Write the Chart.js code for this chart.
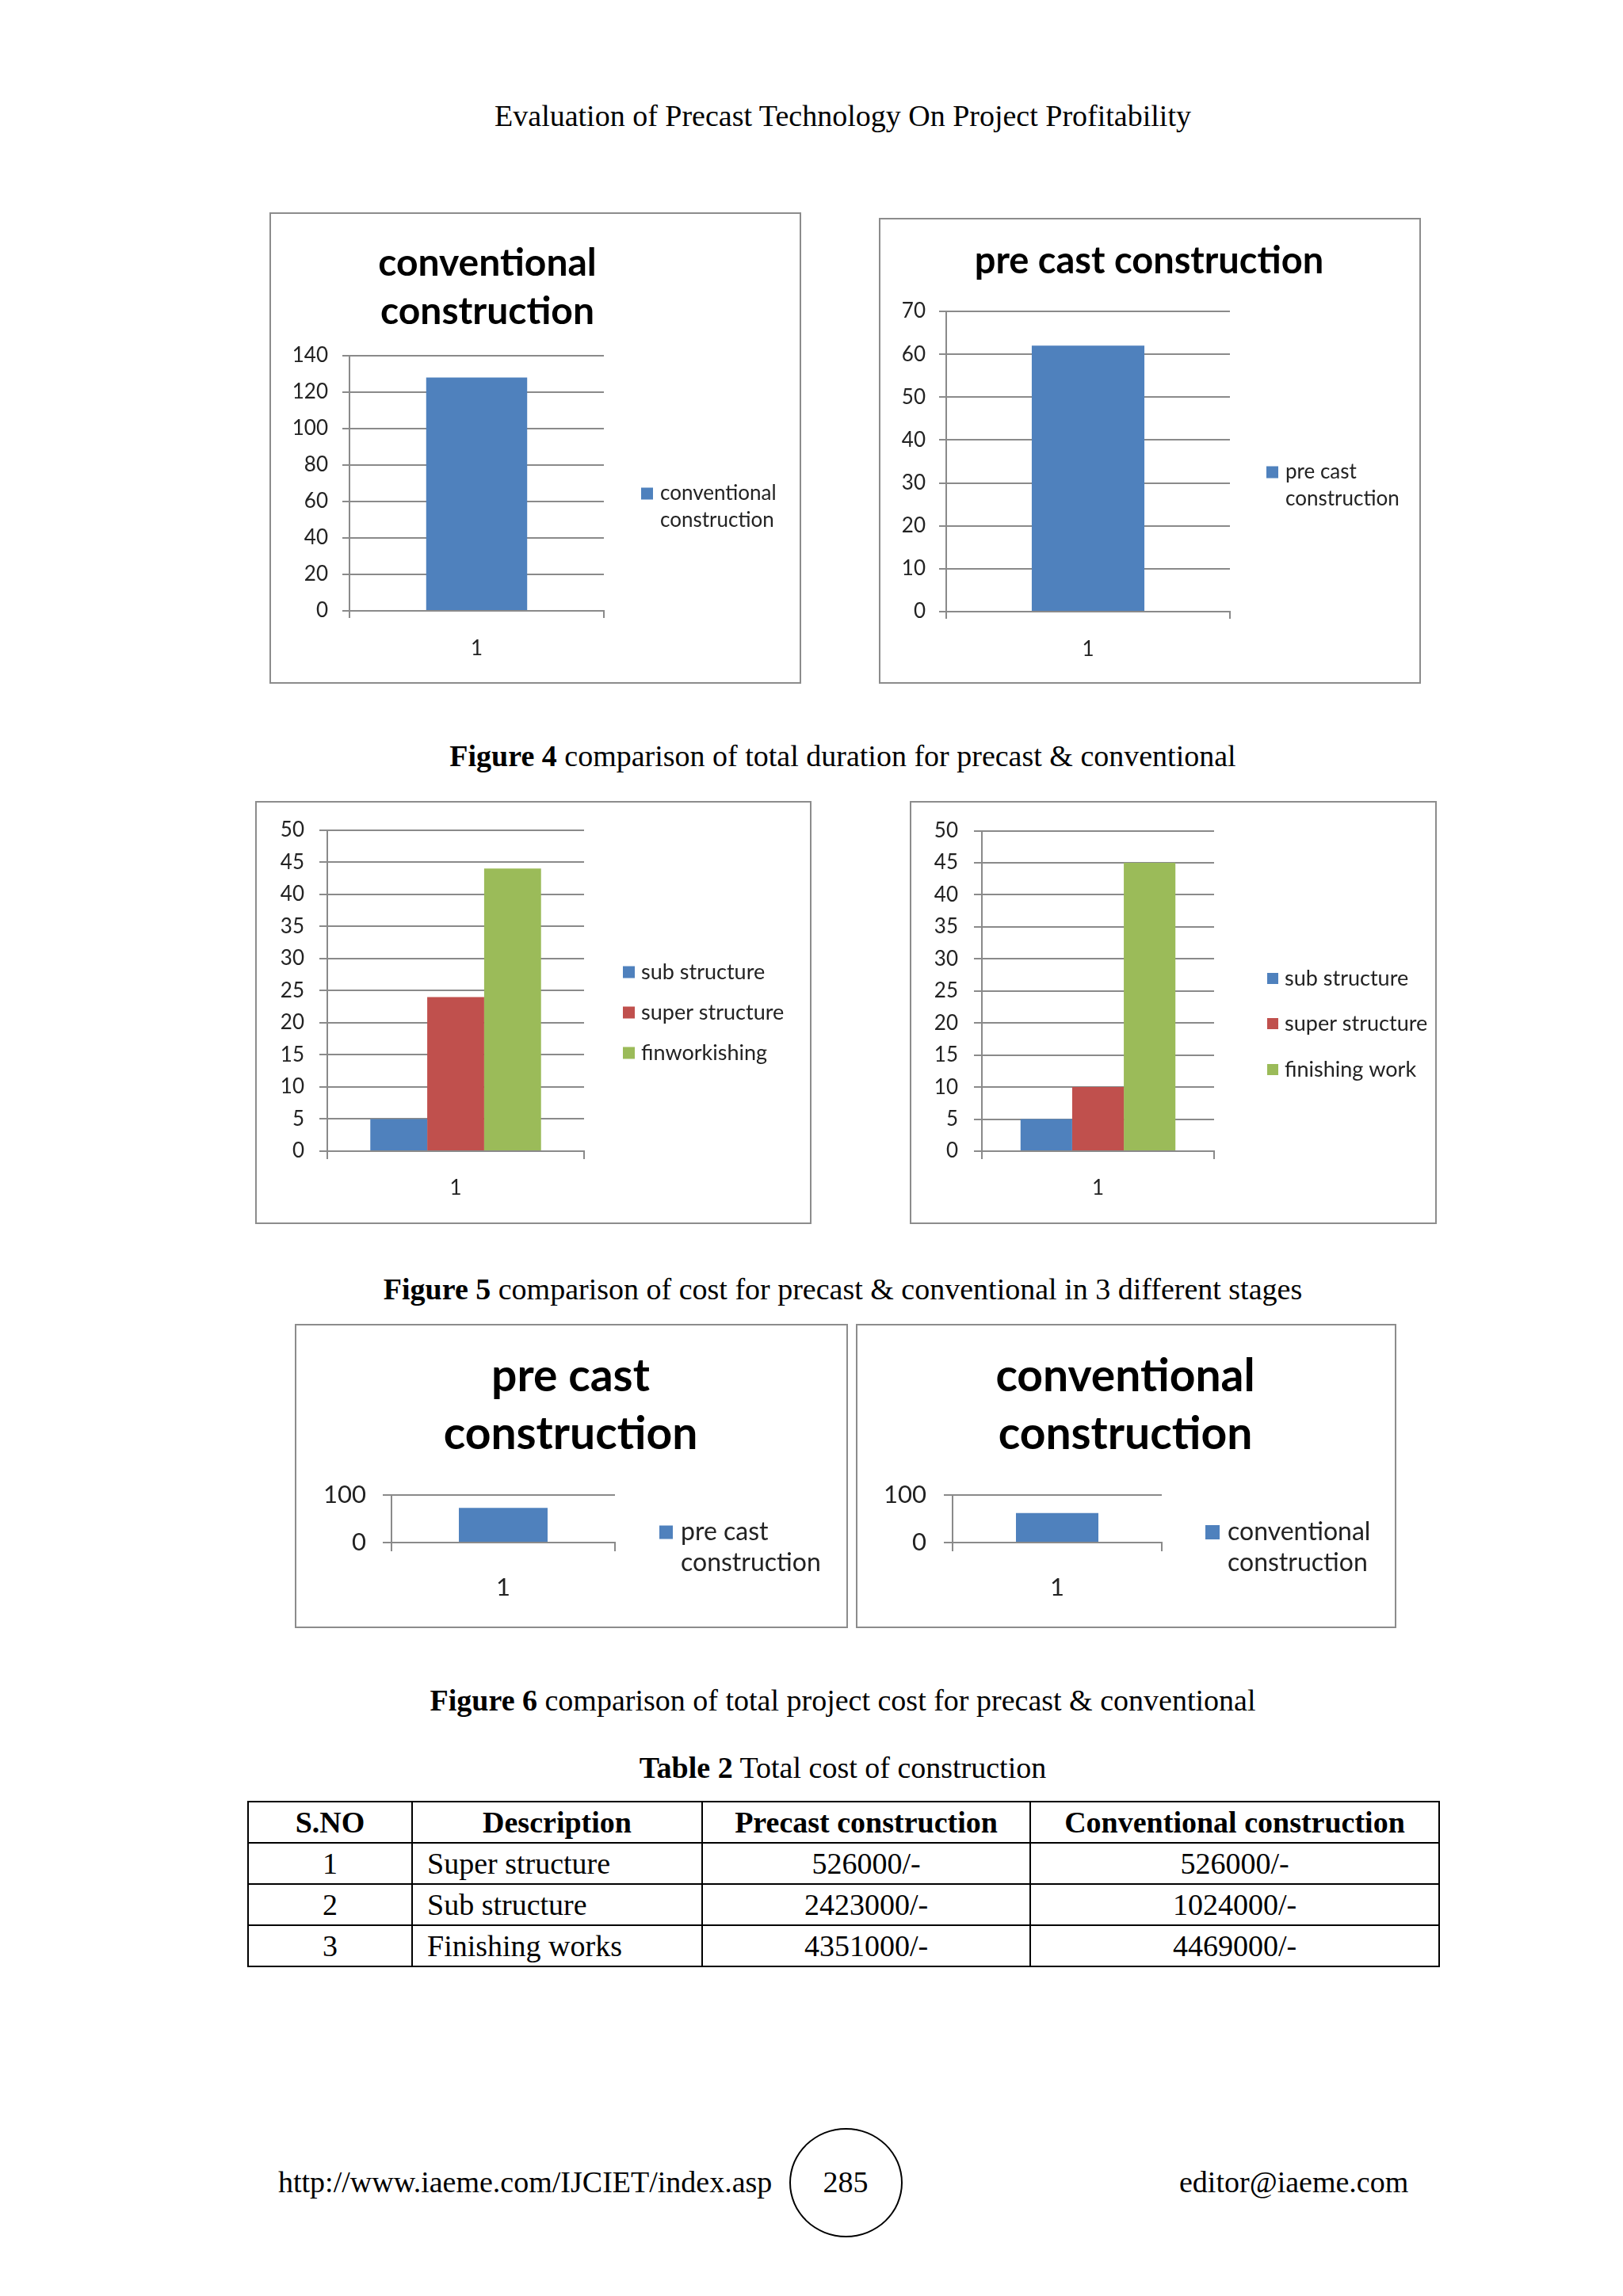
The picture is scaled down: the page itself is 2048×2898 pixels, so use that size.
<!DOCTYPE html>
<html><head><meta charset="utf-8">
<script src="https://cdn.jsdelivr.net/npm/chart.js@4.4.1/dist/chart.umd.min.js"></script>
<style>
html,body{margin:0;padding:0;background:#fff;}
body{width:2048px;height:2898px;position:relative;overflow:hidden;font-family:"Liberation Serif","Times New Roman",serif;color:#000;}
.t{position:absolute;white-space:nowrap;font-size:38px;line-height:40px;}
.c{left:312px;width:1503px;text-align:center;}
.box{position:absolute;border:2px solid #8c8c8c;background:#fff;box-sizing:border-box;}
.box canvas{position:absolute;left:0;top:0;}
table{position:absolute;left:312px;top:2273px;border-collapse:collapse;font-size:38px;}
td,th{border:2px solid #000;height:50px;padding:0;line-height:50px;}
th{font-weight:bold;text-align:center;}
td{text-align:center;}
td.d{text-align:left;padding-left:18px;}
.ell{position:absolute;left:996px;top:2686px;width:143px;height:138px;border:2.5px solid #000;border-radius:50%;box-sizing:border-box;}
</style>
</head><body>
<div class="t c" style="top:126px;">Evaluation of Precast Technology On Project Profitability</div>

<div class="box" id="c1"></div>
<div class="box" id="c2"></div>
<div class="t c" style="top:934px;"><b>Figure 4</b> comparison of total duration for precast &amp; conventional</div>

<div class="box" id="c3"></div>
<div class="box" id="c4"></div>
<div class="t c" style="top:1607px;"><b>Figure 5</b> comparison of cost for precast &amp; conventional in 3 different stages</div>

<div class="box" id="c5"></div>
<div class="box" id="c6"></div>
<div class="t c" style="top:2126px;"><b>Figure 6</b> comparison of total project cost for precast &amp; conventional</div>
<div class="t c" style="top:2211px;"><b>Table 2</b> Total cost of construction</div>

<table id="tbl"></table>

<div class="t" style="left:351px;top:2734px;">http://www.iaeme.com/IJCIET/index.asp</div>
<div class="ell"></div>
<div class="t" style="left:967px;width:200px;text-align:center;top:2734px;">285</div>
<div class="t" style="left:1488px;top:2734px;">editor@iaeme.com</div>

<script>
// ---------- data ----------
const durationCategories = ['1'];
const conventionalDuration = [128];
const precastDuration = [62];

const stageCategories = ['1'];
const stageLeftSub = [5];
const stageLeftSuper = [24];
const stageLeftFinishing = [44];
const stageRightSub = [5];
const stageRightSuper = [10];
const stageRightFinishing = [45];
const stageLeftLabels = ['sub structure', 'super structure', 'finworkishing'];
const stageRightLabels = ['sub structure', 'super structure', 'finishing work'];

const totalCostCategories = ['1'];
const precastTotalCost = [73];
const conventionalTotalCost = [62];

const tableHeader = ['S.NO', 'Description', 'Precast construction', 'Conventional construction'];
const tableSNo = ['1', '2', '3'];
const tableDescription = ['Super structure', 'Sub structure', 'Finishing works'];
const tablePrecast = ['526000/-', '2423000/-', '4351000/-'];
const tableConventional = ['526000/-', '1024000/-', '4469000/-'];

// ---------- table ----------
(function(){
  const colW = [207, 366, 414, 516];
  const tbl = document.getElementById('tbl');
  let h = '<tr>' + tableHeader.map((x,i)=>`<th style="width:${colW[i]-2}px">${x}</th>`).join('') + '</tr>';
  for (let i = 0; i < tableSNo.length; i++) {
    h += `<tr><td>${tableSNo[i]}</td><td class="d">${tableDescription[i]}</td><td>${tablePrecast[i]}</td><td>${tableConventional[i]}</td></tr>`;
  }
  tbl.innerHTML = h;
})();

// ---------- charts ----------
const BLUE = '#4F81BD', RED = '#C0504D', GREEN = '#9BBB59';
const GRID = '#8a8a8a';
const FONT = 'Lato, "Open Sans", sans-serif';

const decor = {
  id: 'decor',
  afterDraw(chart, args, o) {
    const ctx = chart.ctx;
    ctx.save();
    if (o.title) {
      ctx.font = `bold ${o.title.size}px ${FONT}`;
      ctx.fillStyle = '#000';
      ctx.textAlign = 'center';
      ctx.textBaseline = 'alphabetic';
      o.title.lines.forEach((t, i) => ctx.fillText(t, o.title.x, o.title.baselines[i]));
    }
    if (o.legend) {
      const L = o.legend;
      ctx.font = `${L.size}px ${FONT}`;
      ctx.textAlign = 'left';
      ctx.textBaseline = 'middle';
      chart.data.datasets.forEach((ds, i) => {
        const y = L.rows[i];
        ctx.fillStyle = ds.backgroundColor;
        ctx.fillRect(L.x, y - L.box / 2, L.box, L.box);
        ctx.fillStyle = '#222';
        let lines = [ds.label];
        if (L.wrap) { const k = ds.label.lastIndexOf(' '); lines = [ds.label.slice(0, k), ds.label.slice(k + 1)]; }
        lines.forEach((s, j) => ctx.fillText(s, L.tx, y + j * L.gap));
      });
    }
    ctx.restore();
  }
};

function buildChart(id, s) {
  const el = document.getElementById(id);
  const [bx1, by1, bx2, by2] = s.box;
  el.style.left = bx1 + 'px'; el.style.top = by1 + 'px';
  el.style.width = (bx2 - bx1) + 'px'; el.style.height = (by2 - by1) + 'px';
  const W = bx2 - bx1 - 4, H = by2 - by1 - 4, ox = bx1 + 2, oy = by1 + 2;
  const cv = document.createElement('canvas');
  cv.width = W; cv.height = H; cv.style.width = W + 'px'; cv.style.height = H + 'px';
  el.appendChild(cv);
  const l = s.plot[0] - ox, t = s.plot[1] - oy, r = s.plot[2] - ox, b = s.plot[3] - oy;
  const yW = l - 4, xH = H - b - 2;
  const xPad = s.xLabelY - s.plot[3] - s.tick - 0.6 * s.fs;
  const title = s.title ? { size: s.title.size, lines: s.title.lines, x: s.title.x - ox, baselines: s.title.baselines.map(v => v - oy) } : null;
  const legend = { size: s.legend.size, box: s.legend.box, x: s.legend.x - ox, tx: s.legend.tx - ox,
    rows: s.legend.rows.map(v => v - oy), gap: s.legend.gap || 0, wrap: !!s.legend.wrap };
  new Chart(cv, {
    type: 'bar',
    data: {
      labels: s.labels,
      datasets: s.datasets.map(d => ({ label: d.label, data: d.data, backgroundColor: d.color, borderWidth: 0,
        barPercentage: s.barPct, categoryPercentage: s.catPct }))
    },
    options: {
      responsive: false, animation: false, devicePixelRatio: 1,
      layout: { padding: { left: l - yW, top: t, right: W - r, bottom: H - b - xH } },
      plugins: { legend: { display: false }, title: { display: false }, tooltip: { enabled: false },
        decor: { title, legend } },
      scales: {
        x: {
          grid: { display: true, drawOnChartArea: false, drawTicks: true, tickLength: s.tick, color: GRID, lineWidth: 2 },
          border: { display: true, color: GRID, width: 2 },
          ticks: { font: { family: FONT, size: s.fs }, color: '#222', padding: xPad },
          afterFit(sc) { sc.height = xH; }
        },
        y: {
          min: 0, max: s.yMax,
          grid: { color: GRID, lineWidth: 2, tickLength: s.tick },
          border: { display: true, color: GRID, width: 2 },
          ticks: { stepSize: s.yStep, font: { family: FONT, size: s.fs }, color: '#222', padding: s.yGap - s.tick },
          afterFit(sc) { sc.width = yW; }
        }
      }
    },
    plugins: [decor]
  });
}

buildChart('c1', {
  box: [340, 268, 1011, 863], plot: [441, 449, 762, 771], yMax: 140, yStep: 20, tick: 9, fs: 26, yGap: 27, xLabelY: 819,
  labels: durationCategories, barPct: 0.397, catPct: 1,
  datasets: [{ label: 'conventional construction', data: conventionalDuration, color: BLUE }],
  title: { size: 48, lines: ['conventional', 'construction'], x: 615, baselines: [348, 409] },
  legend: { size: 26, box: 15, x: 809, tx: 833, rows: [623], gap: 34, wrap: true }
});
buildChart('c2', {
  box: [1109, 275, 1793, 863], plot: [1194, 393, 1552, 772], yMax: 70, yStep: 10, tick: 9, fs: 26, yGap: 26, xLabelY: 820,
  labels: durationCategories, barPct: 0.397, catPct: 1,
  datasets: [{ label: 'pre cast construction', data: precastDuration, color: BLUE }],
  title: { size: 47, lines: ['pre cast construction'], x: 1450, baselines: [345] },
  legend: { size: 26, box: 15, x: 1598, tx: 1622, rows: [596], gap: 34, wrap: true }
});
buildChart('c3', {
  box: [322, 1011, 1024, 1545], plot: [413, 1042, 737, 1453], yMax: 50, yStep: 5, tick: 10, fs: 26, yGap: 29, xLabelY: 1500,
  labels: stageCategories, barPct: 1, catPct: 0.665,
  datasets: [
    { label: stageLeftLabels[0], data: stageLeftSub, color: BLUE },
    { label: stageLeftLabels[1], data: stageLeftSuper, color: RED },
    { label: stageLeftLabels[2], data: stageLeftFinishing, color: GREEN }
  ],
  legend: { size: 27, box: 15, x: 786, tx: 809, rows: [1227, 1278, 1329] }
});
buildChart('c4', {
  box: [1148, 1011, 1813, 1545], plot: [1239, 1042, 1532, 1453], yMax: 50, yStep: 5, tick: 10, fs: 26, yGap: 30, xLabelY: 1500,
  labels: stageCategories, barPct: 1, catPct: 0.667,
  datasets: [
    { label: stageRightLabels[0], data: stageRightSub, color: BLUE },
    { label: stageRightLabels[1], data: stageRightSuper, color: RED },
    { label: stageRightLabels[2], data: stageRightFinishing, color: GREEN }
  ],
  legend: { size: 27, box: 14, x: 1599, tx: 1621, rows: [1235, 1292, 1350] }
});
buildChart('c5', {
  box: [372, 1671, 1070, 2055], plot: [494, 1887, 776, 1947], yMax: 100, yStep: 100, tick: 11, fs: 31, yGap: 32, xLabelY: 2004,
  labels: totalCostCategories, barPct: 0.397, catPct: 1,
  datasets: [{ label: 'pre cast construction', data: precastTotalCost, color: BLUE }],
  title: { size: 57, lines: ['pre cast', 'construction'], x: 720, baselines: [1756, 1829] },
  legend: { size: 32, box: 17, x: 832, tx: 859, rows: [1934], gap: 39, wrap: true }
});
buildChart('c6', {
  box: [1080, 1671, 1762, 2055], plot: [1202, 1887, 1466, 1947], yMax: 100, yStep: 100, tick: 11, fs: 31, yGap: 33, xLabelY: 2004,
  labels: totalCostCategories, barPct: 0.394, catPct: 1,
  datasets: [{ label: 'conventional construction', data: conventionalTotalCost, color: BLUE }],
  title: { size: 57, lines: ['conventional', 'construction'], x: 1420, baselines: [1756, 1829] },
  legend: { size: 32, box: 18, x: 1521, tx: 1549, rows: [1934], gap: 39, wrap: true }
});
</script>
</body></html>
